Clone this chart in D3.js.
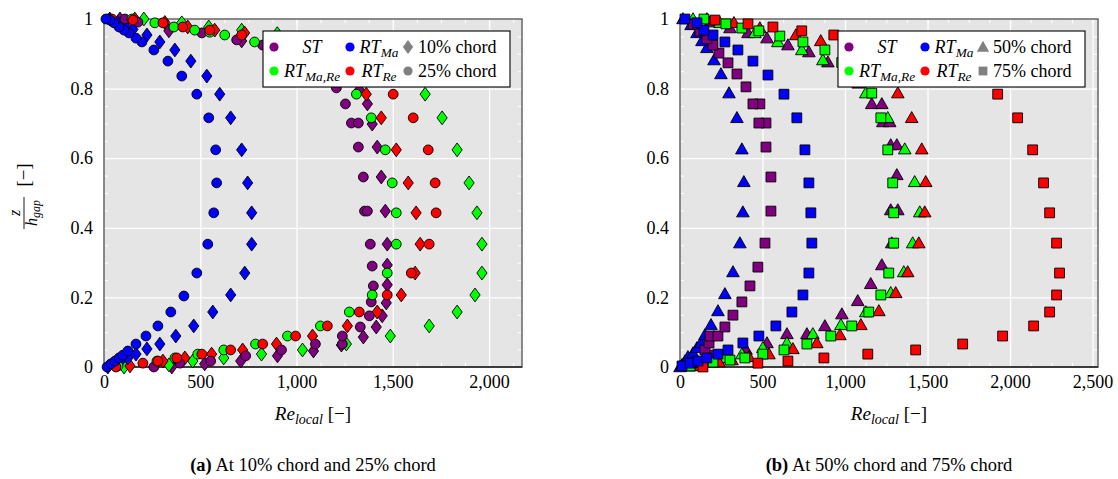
<!DOCTYPE html>
<html>
<head>
<meta charset="utf-8">
<script src="https://cdn.jsdelivr.net/npm/d3@7"></script>
<style>
  body { margin: 0; background: #fff; }
  svg, svg text { font-family: "Liberation Serif", "DejaVu Serif", "Times New Roman", serif !important; }
</style>
</head>
<body>
<svg id="chart" width="1118" height="479"></svg>
<script>
// ---- tick labels ----
const yTicks = [0, 0.2, 0.4, 0.6, 0.8, 1];
const xTicksA = [0, 500, 1000, 1500, 2000];
const xTicksB = [0, 500, 1000, 1500, 2000, 2500];

// ---- series (Re_local, z/h_gap) ----
const seriesColors = { ST: "#800080", RTMa: "#0000ff", RTMaRe: "#00ff00", RTRe: "#ff0000" };

// 10% chord
const st10 = [[352,0],[523,0.009],[710,0.017],[901,0.032],[1088,0.046],[1233,0.063],[1347,0.086],[1414,0.115],[1445,0.147],[1466,0.184],[1471,0.236],[1471,0.293],[1471,0.353],[1461,0.448],[1440,0.546],[1419,0.632],[1393,0.698],[1368,0.756],[1326,0.796],[1250,0.84],[1120,0.88],[950,0.91],[715,0.937],[337,0.966],[83,1.0]];
const rtMaRe10 = [[104,0],[337,0.006],[461,0.017],[622,0.026],[818,0.037],[1031,0.049],[1259,0.066],[1487,0.089],[1689,0.118],[1834,0.158],[1927,0.207],[1963,0.27],[1963,0.353],[1937,0.443],[1896,0.529],[1834,0.624],[1756,0.716],[1668,0.784],[1550,0.836],[1350,0.879],[1100,0.92],[900,0.958],[715,0.968],[544,0.977],[404,0.989],[207,1.0]];
const rtRe10 = [[135,0.003],[306,0.017],[420,0.026],[559,0.037],[720,0.049],[896,0.066],[1083,0.089],[1264,0.118],[1419,0.158],[1544,0.207],[1616,0.27],[1642,0.353],[1621,0.443],[1580,0.529],[1518,0.624],[1440,0.716],[1362,0.784],[1250,0.836],[1100,0.879],[930,0.915],[730,0.96],[575,0.968],[435,0.977],[316,0.99],[160,1.0]];
const rtMa10 = [[20,0],[50,0.009],[85,0.017],[124,0.026],[166,0.037],[223,0.052],[290,0.066],[373,0.089],[466,0.118],[565,0.158],[658,0.207],[731,0.27],[767,0.353],[767,0.443],[746,0.529],[715,0.624],[658,0.716],[601,0.784],[534,0.836],[451,0.879],[368,0.911],[290,0.934],[223,0.954],[150,0.97],[110,0.98],[70,0.99],[30,1.0]];

// 25% chord
const st25 = [[259,0],[394,0.011],[554,0.017],[736,0.032],[922,0.049],[1098,0.066],[1238,0.066],[1238,0.089],[1331,0.115],[1378,0.147],[1388,0.187],[1399,0.233],[1393,0.29],[1383,0.353],[1353,0.448],[1368,0.448],[1347,0.546],[1321,0.632],[1285,0.701],[1321,0.701],[1254,0.756],[1207,0.802],[1100,0.85],[960,0.895],[824,0.925],[689,0.94],[508,0.96],[176,0.991],[109,1.0],[21,1.0]];
const rtMaRe25 = [[73,0.003],[275,0.017],[368,0.026],[487,0.037],[622,0.049],[787,0.066],[953,0.089],[1124,0.118],[1274,0.158],[1393,0.207],[1471,0.27],[1518,0.353],[1518,0.443],[1497,0.529],[1461,0.624],[1388,0.716],[1311,0.784],[1200,0.836],[1050,0.879],[900,0.911],[782,0.934],[627,0.954],[549,0.962],[471,0.968],[363,0.977],[264,0.989],[145,1.0]];
const rtRe25 = [[62,0],[202,0.011],[280,0.017],[378,0.026],[508,0.037],[658,0.049],[824,0.066],[995,0.089],[1160,0.118],[1326,0.158],[1471,0.207],[1596,0.27],[1689,0.353],[1725,0.443],[1720,0.529],[1684,0.624],[1606,0.716],[1502,0.784],[1378,0.836],[1222,0.879],[1015,0.911],[715,0.954],[549,0.968],[409,0.977],[306,0.989],[150,0.997],[41,1.0]];
const rtMa25 = [[16,0],[36,0.009],[57,0.017],[78,0.026],[98,0.034],[124,0.046],[166,0.066],[218,0.089],[280,0.118],[347,0.158],[415,0.204],[482,0.27],[539,0.353],[570,0.443],[585,0.529],[580,0.624],[544,0.716],[482,0.784],[404,0.836],[332,0.879],[259,0.911],[197,0.934],[166,0.945],[130,0.96],[104,0.968],[78,0.977],[52,0.989],[31,0.997],[10,1.0]];

// 50% chord
const st50 = [[61,0.003],[242,0.026],[400,0.05],[527,0.069],[648,0.095],[769,0.095],[878,0.118],[981,0.152],[1077,0.19],[1156,0.239],[1223,0.293],[1283,0.356],[1277,0.451],[1320,0.451],[1314,0.552],[1277,0.638],[1314,0.638],[1229,0.704],[1271,0.704],[1162,0.756],[1223,0.756],[1080,0.815],[1000,0.84],[896,0.876],[781,0.905],[654,0.925],[527,0.945],[412,0.96],[303,0.974],[182,0.991]];
const rtMaRe50 = [[30,0.006],[139,0.017],[272,0.026],[375,0.037],[502,0.055],[648,0.069],[805,0.095],[975,0.121],[1126,0.158],[1277,0.213],[1356,0.273],[1410,0.356],[1453,0.445],[1422,0.532],[1362,0.626],[1259,0.716],[1126,0.787],[1000,0.84],[866,0.882],[738,0.911],[593,0.934],[454,0.96],[242,0.989],[79,1.0]];
const rtRe50 = [[73,0.003],[236,0.014],[315,0.02],[418,0.029],[539,0.037],[684,0.052],[829,0.069],[969,0.092],[1096,0.121],[1205,0.161],[1307,0.213],[1380,0.273],[1447,0.356],[1483,0.445],[1489,0.532],[1465,0.626],[1404,0.716],[1320,0.787],[1200,0.84],[1050,0.89],[853,0.937],[702,0.954],[484,0.974],[327,0.989],[163,1.0]];
const rtMa50 = [[0,0],[12,0.006],[30,0.017],[48,0.029],[79,0.04],[103,0.055],[127,0.069],[151,0.092],[188,0.121],[230,0.161],[272,0.21],[321,0.273],[363,0.356],[381,0.445],[387,0.532],[375,0.626],[345,0.716],[297,0.787],[248,0.842],[206,0.882],[163,0.917],[133,0.937],[103,0.96],[67,0.983],[18,1.0]];

// 75% chord
const st75 = [[61,0.003],[121,0.014],[194,0.034],[151,0.049],[176,0.069],[182,0.089],[230,0.089],[272,0.115],[321,0.149],[375,0.187],[424,0.233],[472,0.287],[515,0.356],[551,0.448],[551,0.546],[521,0.632],[521,0.701],[478,0.701],[484,0.756],[442,0.756],[400,0.805],[345,0.842],[291,0.874],[236,0.902],[200,0.925],[163,0.943],[121,0.965],[80,0.985]];
const rtMaRe75 = [[61,0.003],[200,0.014],[303,0.02],[393,0.026],[502,0.037],[630,0.049],[769,0.066],[914,0.089],[1041,0.118],[1144,0.158],[1217,0.207],[1265,0.27],[1295,0.356],[1295,0.443],[1289,0.529],[1259,0.624],[1217,0.716],[1162,0.787],[1080,0.835],[980,0.875],[878,0.911],[745,0.934],[605,0.951],[478,0.966],[375,0.974],[278,0.986],[145,1.0]];
const rtRe75 = [[139,0],[472,0.011],[654,0.017],[872,0.026],[1138,0.037],[1428,0.049],[1713,0.066],[1955,0.089],[2143,0.118],[2240,0.158],[2282,0.207],[2300,0.27],[2282,0.356],[2240,0.443],[2203,0.529],[2137,0.624],[2046,0.716],[1925,0.784],[1750,0.84],[1550,0.88],[1300,0.915],[1100,0.94],[932,0.954],[738,0.966],[563,0.977],[412,0.986],[212,0.997]];
const rtMa75 = [[12,0.003],[61,0.011],[109,0.017],[163,0.026],[230,0.037],[291,0.049],[381,0.069],[478,0.089],[581,0.118],[678,0.158],[745,0.207],[781,0.27],[799,0.356],[793,0.443],[781,0.529],[757,0.624],[708,0.716],[630,0.784],[533,0.839],[442,0.879],[351,0.911],[272,0.934],[200,0.954],[145,0.968],[103,0.989],[30,1.0]];

// ---- marker shapes (size argument is used as a radius) ----
const circleType = { draw(ctx, r) { ctx.moveTo(r, 0); ctx.arc(0, 0, r, 0, 2 * Math.PI); ctx.closePath(); } };
const diamondType = { draw(ctx, r) { const w = r * 0.74; ctx.moveTo(0, -r); ctx.lineTo(w, 0); ctx.lineTo(0, r); ctx.lineTo(-w, 0); ctx.closePath(); } };
const triangleType = { draw(ctx, r) { ctx.moveTo(0, -r); ctx.lineTo(r, r * 0.75); ctx.lineTo(-r, r * 0.75); ctx.closePath(); } };
const squareType = { draw(ctx, r) { ctx.rect(-r, -r, 2 * r, 2 * r); } };
const shapeSize = new Map([[circleType, 4.9], [diamondType, 6.9], [triangleType, 6.3], [squareType, 4.9]]);
const legendSize = new Map([[circleType, 4.6], [diamondType, 7], [triangleType, 6.2], [squareType, 4.4]]);

const FONT = "'Liberation Serif', 'DejaVu Serif', 'Times New Roman', serif";
const svg = d3.select("#chart").attr("font-family", FONT);
const yScale = d3.scaleLinear().domain([0, 1]).range([367, 19]);

function addSub(textSel, main, sub, mainItalic) {
  textSel.append("tspan").attr("font-style", mainItalic ? "italic" : "normal").text(main);
  textSel.append("tspan").attr("font-style", "italic").attr("font-size", "0.74em").attr("dy", 4).text(sub);
}

function drawPanel(cfg) {
  const x = cfg.x;
  const [x0, x1] = x.range();
  const [yb, yt] = yScale.range();
  const g = svg.append("g").attr("font-family", FONT);

  g.append("rect").attr("x", x0).attr("y", yt).attr("width", x1 - x0).attr("height", yb - yt).attr("fill", "#e5e5e5");

  // major grid lines
  const whiteLines = s => { s.select(".domain").remove(); s.selectAll("line").attr("stroke", "#fff").attr("stroke-width", 1.3); s.selectAll("text").remove(); };
  g.append("g").attr("transform", `translate(0,${yb})`)
    .call(d3.axisBottom(x).tickValues(cfg.xTicks.slice(1)).tickSize(-(yb - yt))).call(whiteLines);
  g.append("g").attr("transform", `translate(${x0},0)`)
    .call(d3.axisLeft(yScale).tickValues(yTicks.slice(1, -1)).tickSize(-(x1 - x0))).call(whiteLines);

  // minor ticks, drawn inward on all four sides
  const xMinor = d3.range(125, x.domain()[1], 125).filter(v => v % 500 !== 0);
  const yMinor = d3.range(1, 20).map(i => i / 20).filter(v => Math.round(v * 20) % 4 !== 0);
  const minorLines = s => { s.select(".domain").remove(); s.selectAll("line").attr("stroke", "#fff").attr("stroke-width", 1.1); s.selectAll("text").remove(); };
  const allX = xMinor.concat(cfg.xTicks.slice(1));
  const allY = yMinor.concat(yTicks.slice(1, -1));
  g.append("g").attr("transform", `translate(0,${yb})`).call(d3.axisBottom(x).tickValues(allX).tickSize(-4)).call(minorLines);
  g.append("g").attr("transform", `translate(0,${yt})`).call(d3.axisTop(x).tickValues(allX).tickSize(-4)).call(minorLines);
  g.append("g").attr("transform", `translate(${x0},0)`).call(d3.axisLeft(yScale).tickValues(allY).tickSize(-4)).call(minorLines);
  g.append("g").attr("transform", `translate(${x1},0)`).call(d3.axisRight(yScale).tickValues(allY).tickSize(-4)).call(minorLines);

  // frame
  g.append("rect").attr("x", x0).attr("y", yt).attr("width", x1 - x0).attr("height", yb - yt)
    .attr("fill", "none").attr("stroke", "#6f6f6f").attr("stroke-width", 1.6);
  g.append("line").attr("x1", x0).attr("x2", x1).attr("y1", yb).attr("y2", yb).attr("stroke", "#222").attr("stroke-width", 1.4);

  // markers: first chord position, then second
  cfg.groups.forEach(grp => {
    grp.series.forEach(([key, data]) => {
      g.append("g").selectAll("path").data(data).join("path")
        .attr("transform", d => `translate(${x(d[0])},${yScale(d[1])})`)
        .attr("d", d3.symbol().type(grp.shape).size(shapeSize.get(grp.shape)))
        .attr("fill", seriesColors[key]).attr("stroke", "#000").attr("stroke-width", 0.9);
    });
  });

  // tick labels
  const labelStyle = s => {
    s.attr("font-family", FONT);
    s.select(".domain").remove();
    s.selectAll("text").attr("font-size", 18).attr("fill", "#000").style("font-family", FONT);
  };
  g.append("g").attr("transform", `translate(0,${yb})`)
    .call(d3.axisBottom(x).tickValues(cfg.xTicks).tickSize(0).tickPadding(8).tickFormat(d3.format(","))).call(labelStyle);
  g.append("g").attr("transform", `translate(${x0},0)`)
    .call(d3.axisLeft(yScale).tickValues(yTicks).tickSize(0).tickPadding(11).tickFormat(d3.format("~g"))).call(labelStyle);

  // x axis title
  const cx = (x0 + x1) / 2;
  const xt = g.append("text").attr("x", cx).attr("y", 420).attr("text-anchor", "middle").attr("font-size", 19);
  addSub(xt, "Re", "local", true);
  xt.append("tspan").attr("dy", -4).text(" [\u2212]");

  // caption
  const cap = g.append("text").attr("x", cx).attr("y", 471).attr("text-anchor", "middle").attr("font-size", 18.5);
  cap.append("tspan").attr("font-weight", "bold").text(cfg.tag);
  cap.append("tspan").text(" " + cfg.caption);

  // legend
  const lx = cfg.legendX, ly = 31;
  const lg = g.append("g");
  lg.append("rect").attr("x", lx).attr("y", ly).attr("width", 247).attr("height", 56)
    .attr("fill", "#fff").attr("stroke", "#000").attr("stroke-width", 1.1);
  const rows = [ly + 16, ly + 40];
  const items = [
    { key: "ST", col: 0, row: 0, main: "ST", sub: "" },
    { key: "RTMa", col: 1, row: 0, main: "RT", sub: "Ma" },
    { key: "RTMaRe", col: 0, row: 1, main: "RT", sub: "Ma,Re" },
    { key: "RTRe", col: 1, row: 1, main: "RT", sub: "Re" }
  ];
  const markerX = [lx + 11, lx + 87];
  const textX = [lx + 49, lx + 116];
  items.forEach(it => {
    lg.append("path").attr("transform", `translate(${markerX[it.col]},${rows[it.row]})`)
      .attr("d", d3.symbol().type(circleType).size(4.6)).attr("fill", seriesColors[it.key]);
    const t = lg.append("text").attr("x", textX[it.col]).attr("y", rows[it.row] + 6)
      .attr("text-anchor", "middle").attr("font-size", 18);
    if (it.sub) addSub(t, it.main, it.sub, true);
    else t.append("tspan").attr("font-style", "italic").text(it.main);
  });
  cfg.groups.forEach((grp, i) => {
    lg.append("path").attr("transform", `translate(${lx + 145},${rows[i]})`)
      .attr("d", d3.symbol().type(grp.shape).size(legendSize.get(grp.shape)))
      .attr("fill", "#808080");
    lg.append("text").attr("x", lx + 155).attr("y", rows[i] + 6).attr("font-size", 18).text(grp.label);
  });
}

drawPanel({
  x: d3.scaleLinear().domain([0, 2171]).range([104, 522]),
  xTicks: xTicksA,
  legendX: 263,
  tag: "(a)",
  caption: "At 10% chord and 25% chord",
  groups: [
    { shape: diamondType, label: "10% chord", series: [["ST", st10], ["RTMaRe", rtMaRe10], ["RTRe", rtRe10], ["RTMa", rtMa10]] },
    { shape: circleType, label: "25% chord", series: [["ST", st25], ["RTMaRe", rtMaRe25], ["RTRe", rtRe25], ["RTMa", rtMa25]] }
  ]
});

drawPanel({
  x: d3.scaleLinear().domain([0, 2533]).range([680, 1098]),
  xTicks: xTicksB,
  legendX: 838,
  tag: "(b)",
  caption: "At 50% chord and 75% chord",
  groups: [
    { shape: triangleType, label: "50% chord", series: [["ST", st50], ["RTMaRe", rtMaRe50], ["RTRe", rtRe50], ["RTMa", rtMa50]] },
    { shape: squareType, label: "75% chord", series: [["ST", st75], ["RTMaRe", rtMaRe75], ["RTRe", rtRe75], ["RTMa", rtMa75]] }
  ]
});

// y axis title: z / h_gap [−]
const yt = svg.append("g").attr("transform", "translate(24,194) rotate(-90)").attr("font-family", FONT);
yt.append("line").attr("x1", -35).attr("x2", -3).attr("y1", 0).attr("y2", 0).attr("stroke", "#000").attr("stroke-width", 0.9);
yt.append("text").attr("x", -19).attr("y", -4).attr("text-anchor", "middle").attr("font-size", 16).attr("font-style", "italic").text("z");
const hg = yt.append("text").attr("x", -19).attr("y", 13).attr("text-anchor", "middle").attr("font-size", 16);
hg.append("tspan").attr("font-style", "italic").text("h");
hg.append("tspan").attr("font-style", "italic").attr("font-size", "0.74em").attr("dy", 3).text("gap");
yt.append("text").attr("x", 19).attr("y", 6).attr("text-anchor", "middle").attr("font-size", 19).text("[\u2212]");
</script>
</body>
</html>
